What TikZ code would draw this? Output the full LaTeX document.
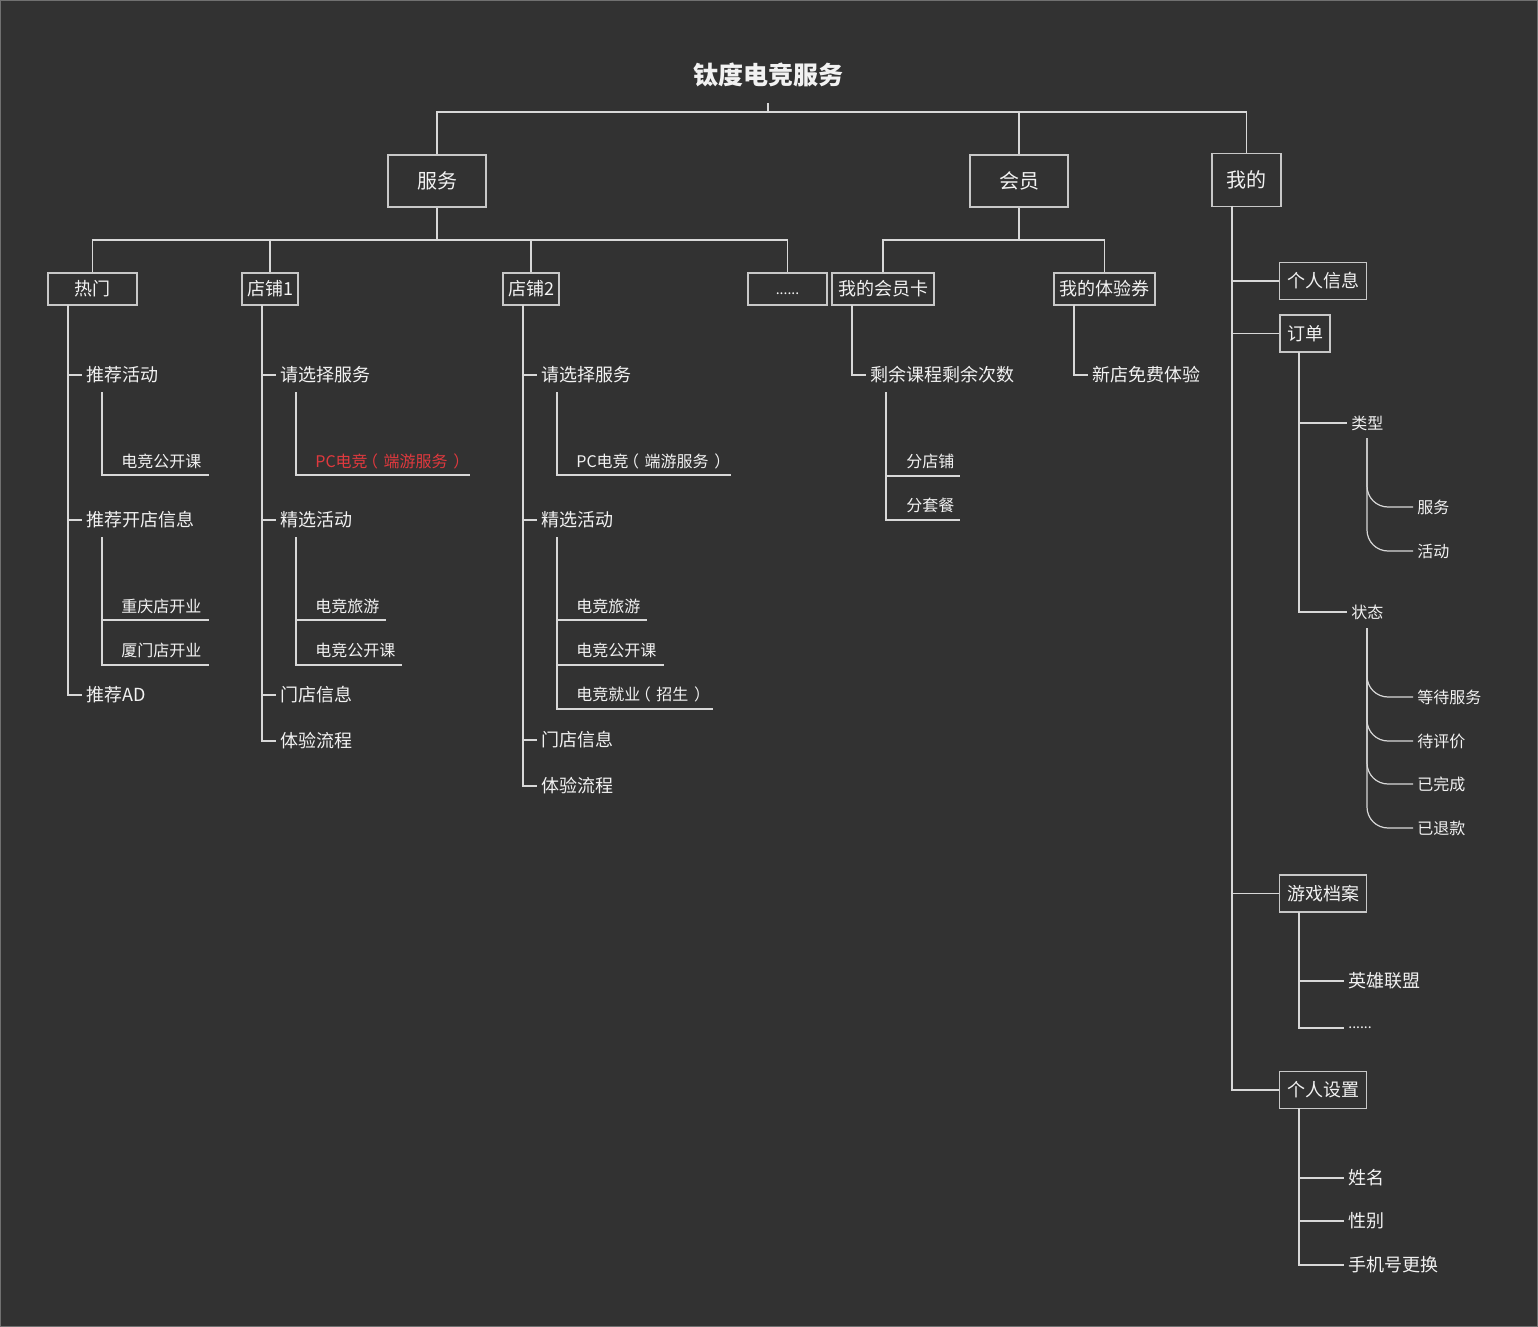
\documentclass[tikz,border=0pt]{standalone}
\usepackage{fontspec}
\setmainfont{Noto Sans CJK SC}
\definecolor{bg}{HTML}{323232}
\definecolor{ln}{HTML}{D8D8D8}
\definecolor{bx}{HTML}{C8C8C8}
\definecolor{tx}{HTML}{F2F2F2}
\definecolor{rd}{HTML}{E0393E}
\definecolor{fr}{HTML}{707070}
\newcommand{\lpar}{\hspace{-0.35em}（\hspace{0.35em}}
\newcommand{\rpar}{\hspace{0.35em}）\hspace{-0.35em}}
\begin{document}
\begin{tikzpicture}[x=0.5pt,y=-0.5pt,
  conn/.style={draw=ln,line width=0.6pt},
  curv/.style={conn,rounded corners=10.5pt},
  box/.style={draw=bx,line width=0.6pt,inner sep=0pt,text=tx,font=\fontsize{9}{11}\selectfont},
  bigbox/.style={box,font=\fontsize{10}{12}\selectfont,minimum width=49pt,minimum height=26pt},
  lvbox/.style={box,minimum height=16pt},
  rbox/.style={box,minimum height=18.5pt},
  lab/.style={text=tx,inner ysep=0pt,inner xsep=2pt,anchor=west,font=\fontsize{9}{11}\selectfont},
  sml/.style={lab,font=\fontsize{8}{10}\selectfont},
  ul/.style={text=tx,inner sep=0pt,anchor=west,font=\fontsize{8}{10}\selectfont}]

\fill[bg] (0,0) rectangle (1538,1327);
\draw[fr,line width=0.5pt] (0.5,0.5) rectangle (1537.5,1326.5);
\useasboundingbox (0,0) rectangle (1538,1327);

% title
\node[text=tx,font=\fontsize{12.5}{15}\selectfont\bfseries] (title) at (768,75) {钛度电竞服务};
\coordinate (t0) at (768,103);
\coordinate (bus1) at (768,112);

% level 1
\node[bigbox] (fw) at (437,181) {服务};
\node[bigbox] (hy) at (1019,181) {会员};
\node[bigbox,minimum width=34.5pt,minimum height=26.5pt] (wd) at (1246.5,180) {我的};

\draw[conn] (t0) -- (bus1);
\draw[conn] (fw.north) |- (bus1) -| (wd.north);
\draw[conn] (hy.north) -- (hy.north |- bus1);

% level 2 under 服务
\node[lvbox,minimum width=44.5pt] (rm) at (92.5,289) {热门};
\node[lvbox,minimum width=28pt] (dp1) at (270,289) {店铺1};
\node[lvbox,minimum width=28pt] (dp2) at (531,289) {店铺2};
\node[lvbox,minimum width=39.5pt,font=\fontsize{7}{9}\selectfont] (more) at (787.5,289) {\vphantom{店}......};
\coordinate (bus2) at (437,240);
\draw[conn] (fw.south) -- (bus2);
\draw[conn] (rm.north) |- (bus2) -| (more.north);
\draw[conn] (dp1.north) -- (dp1.north |- bus2);
\draw[conn] (dp2.north) -- (dp2.north |- bus2);

% level 2 under 会员
\node[lvbox,minimum width=51pt] (hyk) at (883,289) {我的会员卡};
\node[lvbox,minimum width=50.5pt] (tyq) at (1104.5,289) {我的体验券};
\coordinate (bus3) at (1019,240);
\draw[conn] (hy.south) -- (bus3);
\draw[conn] (hyk.north) |- (bus3) -| (tyq.north);

% ---------- 热门 ----------
\coordinate (rmT) at (68,305);
\node[lab] (tjhd) at (82,375) {推荐活动};
\node[lab] (tjkd) at (82,520) {推荐开店信息};
\node[lab] (tjad) at (82,695) {推荐AD};
\foreach \n in {tjhd,tjkd,tjad} \draw[conn] (rmT) |- (\n.west);

\coordinate (rmA) at (102,392);
\node[ul] (rm1) at (121,461) {电竞公开课};
\coordinate (rm1e) at (209,475);
\draw[conn] (rmA) |- (rm1e);

\coordinate (rmB) at (102,537);
\node[ul] (rm2) at (121,606) {重庆店开业};
\coordinate (rm2e) at (209,620);
\node[ul] (rm3) at (121,650) {厦门店开业};
\coordinate (rm3e) at (209,665);
\draw[conn] (rmB) |- (rm2e);
\draw[conn] (rmB) |- (rm3e);

% ---------- 店铺1 ----------
\coordinate (d1T) at (262,305);
\node[lab] (d1a) at (276,375) {请选择服务};
\node[lab] (d1b) at (276,520) {精选活动};
\node[lab] (d1c) at (276,695) {门店信息};
\node[lab] (d1d) at (276,741) {体验流程};
\foreach \n in {d1a,d1b,d1c,d1d} \draw[conn] (d1T) |- (\n.west);

\coordinate (d1A) at (296,392);
\node[ul,text=rd] (d1a1) at (315,461) {PC电竞\lpar 端游服务\rpar};
\coordinate (d1a1e) at (470,475);
\draw[conn] (d1A) |- (d1a1e);

\coordinate (d1B) at (296,537);
\node[ul] (d1b1) at (315,606) {电竞旅游};
\coordinate (d1b1e) at (386,620);
\node[ul] (d1b2) at (315,650) {电竞公开课};
\coordinate (d1b2e) at (402,665);
\draw[conn] (d1B) |- (d1b1e);
\draw[conn] (d1B) |- (d1b2e);

% ---------- 店铺2 ----------
\coordinate (d2T) at (523,305);
\node[lab] (d2a) at (537,375) {请选择服务};
\node[lab] (d2b) at (537,520) {精选活动};
\node[lab] (d2c) at (537,740) {门店信息};
\node[lab] (d2d) at (537,786) {体验流程};
\foreach \n in {d2a,d2b,d2c,d2d} \draw[conn] (d2T) |- (\n.west);

\coordinate (d2A) at (557,392);
\node[ul] (d2a1) at (576,461) {PC电竞\lpar 端游服务\rpar};
\coordinate (d2a1e) at (731,475);
\draw[conn] (d2A) |- (d2a1e);

\coordinate (d2B) at (557,537);
\node[ul] (d2b1) at (576,606) {电竞旅游};
\coordinate (d2b1e) at (647,620);
\node[ul] (d2b2) at (576,650) {电竞公开课};
\coordinate (d2b2e) at (664,665);
\node[ul] (d2b3) at (576,694) {电竞就业\lpar 招生\rpar};
\coordinate (d2b3e) at (713,709);
\draw[conn] (d2B) |- (d2b1e);
\draw[conn] (d2B) |- (d2b2e);
\draw[conn] (d2B) |- (d2b3e);

% ---------- 我的会员卡 ----------
\coordinate (hkT) at (852,305);
\node[lab] (hka) at (866,375) {剩余课程剩余次数};
\draw[conn] (hkT) |- (hka.west);
\coordinate (hkA) at (886,392);
\node[ul] (hk1) at (906,461) {分店铺};
\coordinate (hk1e) at (960,476);
\node[ul] (hk2) at (906,505) {分套餐};
\coordinate (hk2e) at (960,520);
\draw[conn] (hkA) |- (hk1e);
\draw[conn] (hkA) |- (hk2e);

% ---------- 我的体验券 ----------
\coordinate (tqT) at (1074,305);
\node[lab] (tqa) at (1088,375) {新店免费体验};
\draw[conn] (tqT) |- (tqa.west);

% ---------- 我的 ----------
\coordinate (wdT) at (1232,206);
\node[rbox,minimum width=43.5pt] (grxx) at (1323,281) {个人信息};
\node[rbox,minimum width=25pt] (dd) at (1305,333.5) {订单};
\node[rbox,minimum width=43.5pt] (yxda) at (1323,893.5) {游戏档案};
\node[rbox,minimum width=43.5pt] (grsz) at (1323,1090) {个人设置};
\foreach \n in {grxx,dd,yxda,grsz} \draw[conn] (wdT) |- (\n.west);

% 订单
\coordinate (ddT) at (1299,352);
\node[sml] (lx) at (1347,423) {类型};
\node[sml] (zt) at (1347,612) {状态};
\draw[conn] (ddT) |- (lx.west);
\draw[conn] (ddT) |- (zt.west);

\coordinate (lxT) at (1367,438);
\node[sml] (lx1) at (1413,507) {服务};
\node[sml] (lx2) at (1413,551) {活动};
\draw[curv] (lxT) |- (lx1.west);
\draw[curv] (lxT) |- (lx2.west);

\coordinate (ztT) at (1367,628);
\node[sml] (zt1) at (1413,697) {等待服务};
\node[sml] (zt2) at (1413,741) {待评价};
\node[sml] (zt3) at (1413,784) {已完成};
\node[sml] (zt4) at (1413,828) {已退款};
\foreach \n in {zt1,zt2,zt3,zt4} \draw[curv] (ztT) |- (\n.west);

% 游戏档案
\coordinate (yxT) at (1299,912);
\node[lab] (yx1) at (1344,981) {英雄联盟};
\node[lab,font=\fontsize{7}{9}\selectfont] (yx2) at (1344,1028) {......};
\draw[conn] (yxT) |- (yx1.west);
\draw[conn] (yxT) |- (yx2.west);

% 个人设置
\coordinate (szT) at (1299,1108);
\node[lab] (sz1) at (1344,1178) {姓名};
\node[lab] (sz2) at (1344,1221) {性别};
\node[lab] (sz3) at (1344,1265) {手机号更换};
\foreach \n in {sz1,sz2,sz3} \draw[conn] (szT) |- (\n.west);

\end{tikzpicture}
\end{document}
